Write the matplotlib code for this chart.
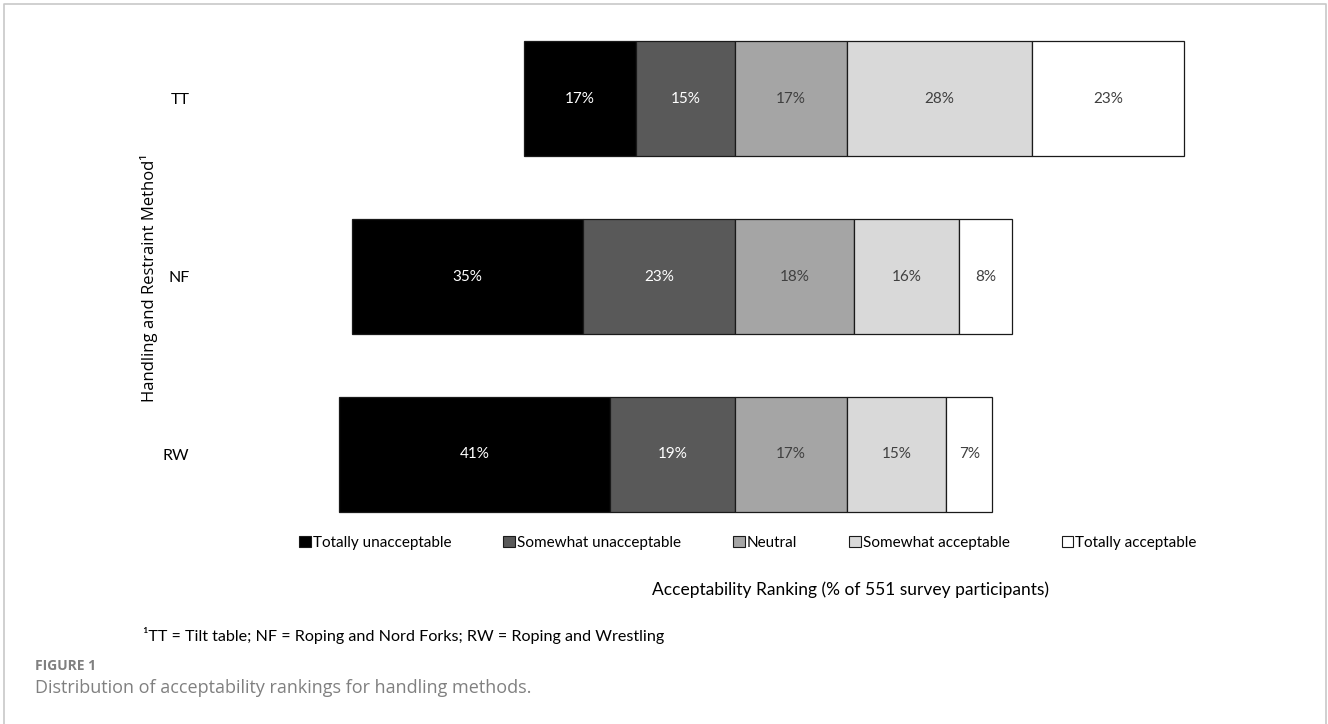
import numpy as np
import matplotlib.pyplot as plt
from matplotlib.patches import Patch

methods = ['TT', 'NF', 'RW']
rankings = ['Totally unacceptable', 'Somewhat unacceptable', 'Neutral',
            'Somewhat acceptable', 'Totally acceptable']
totally_unacc = [17, 35, 41]
somewhat_unacc = [15, 23, 19]
neutral = [17, 18, 17]
somewhat_acc = [28, 16, 15]
totally_acc = [23, 8, 7]

shades = ['#000000', '#595959', '#a5a5a5', '#d9d9d9', '#ffffff']
txt_colors = ['white', 'white', '#404040', '#404040', '#404040']

plt.rcParams['font.family'] = ['Lato', 'DejaVu Sans']

W, H = 1328, 724
fig = plt.figure(figsize=(W / 100, H / 100), dpi=100)

# axes placed in pixel terms: x=0 at 735px, 6.6 px per %
x0, ppp = 735, 6.6
xmin, xmax = -65, 75
left_px = x0 + xmin * ppp
right_px = x0 + xmax * ppp
top_px, bot_px = 9.5, 543.5
ax = fig.add_axes([left_px / W, 1 - bot_px / H, (right_px - left_px) / W, (bot_px - top_px) / H])
ax.set_xlim(xmin, xmax)
ax.set_ylim(2.5, -0.5)

y = np.arange(len(methods))
bh = 115 / 178
series = [totally_unacc, somewhat_unacc, neutral, somewhat_acc, totally_acc]

# unacceptable go left of the neutral start, the rest go right
starts = [-np.array(totally_unacc) - np.array(somewhat_unacc),
          -np.array(somewhat_unacc),
          np.zeros(3),
          np.array(neutral),
          np.array(neutral) + np.array(somewhat_acc)]

for k, vals in enumerate(series):
    bars = ax.barh(y, vals, left=starts[k], height=bh, color=shades[k],
                   edgecolor='#1a1a1a', linewidth=0.9, label=rankings[k])
    for b, v in zip(bars, vals):
        ax.text(b.get_x() + b.get_width() / 2, b.get_y() + b.get_height() / 2,
                f'{v}%', ha='center', va='center', fontsize=11, color=txt_colors[k])

for s in ax.spines.values():
    s.set_visible(False)
ax.set_xticks([])
ax.set_yticks(y)
ax.set_yticklabels(methods, fontsize=11.5)
ax.tick_params(axis='y', length=0, pad=84)

ax.set_xlabel('Acceptability Ranking (% of 551 survey participants)', fontsize=12.5)
ax.xaxis.set_label_coords((851 - left_px) / (right_px - left_px), -(590 - bot_px) / (bot_px - top_px))
ax.xaxis.label.set_va('center')

ax.set_ylabel('Handling and Restraint Method\u00b9', fontsize=12, family=['Open Sans', 'DejaVu Sans'])
ax.yaxis.set_label_coords((149 - left_px) / (right_px - left_px), (bot_px - 278) / (bot_px - top_px))
ax.yaxis.label.set_va('center')

handles = [Patch(facecolor=c, edgecolor='#1a1a1a', linewidth=0.8) for c in shades]
ax.legend(handles, rankings, ncol=5, frameon=False, fontsize=11,
          loc='center', bbox_to_anchor=((748 - left_px) / (right_px - left_px), -(543 - bot_px) / (bot_px - top_px)),
          handlelength=0.75, handleheight=0.75, handletextpad=0.15, columnspacing=3.4)

fig.text(143 / W, 1 - 635 / H,
         '\u00b9TT = Tilt table; NF = Roping and Nord Forks; RW = Roping and Wrestling',
         fontsize=11.6, va='center', ha='left', family=['Lato', 'DejaVu Sans'])

fig.text(35 / W, 1 - 666 / H, 'FIGURE 1', fontsize=10, weight='bold', color='#808080',
         va='center', family=['Open Sans', 'DejaVu Sans'])
fig.text(35 / W, 1 - 688 / H, 'Distribution of acceptability rankings for handling methods.',
         fontsize=13, color='#808080', va='center', family=['Open Sans', 'DejaVu Sans'])

# thin grey frame around the figure panel
fig.add_artist(plt.Line2D([4 / W, 4 / W, 1326 / W, 1326 / W], [0, 1 - 4 / H, 1 - 4 / H, 0],
                          color='#c8c8c8', linewidth=1.2, transform=fig.transFigure))

fig.savefig('out.png', dpi=100)
